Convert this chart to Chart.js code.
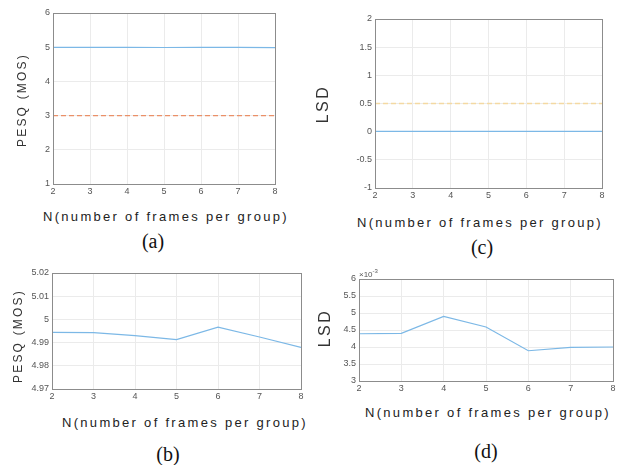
<!DOCTYPE html>
<html>
<head>
<meta charset="utf-8">
<script src="https://cdn.jsdelivr.net/npm/chart.js@4"></script>
<style>
  body { margin: 0; background: #fff; }
  #page { position: relative; width: 618px; height: 465px; overflow: hidden; }
  canvas { position: absolute; }
  .xt { position: absolute; font-family: Arial, "Liberation Sans", sans-serif; font-size: 13px; letter-spacing: 2.3px; color: #222; white-space: nowrap; }
  .yt { position: absolute; font-family: Arial, "Liberation Sans", sans-serif; color: #333; white-space: nowrap; transform: translate(-50%, -50%) rotate(-90deg); }
  .cap { position: absolute; font-family: "Liberation Serif", "DejaVu Serif", serif; font-size: 20px; color: #111; transform: translateX(-50%); }
  .exp { position: absolute; font-family: Arial, "Liberation Sans", sans-serif; font-size: 8px; color: #555; }
</style>
</head>
<body>
<div id="page">
  <canvas id="chartA" width="285" height="200" style="left:0;top:0"></canvas>
  <canvas id="chartC" width="308" height="205" style="left:310px;top:0"></canvas>
  <canvas id="chartB" width="310" height="145" style="left:0;top:260px"></canvas>
  <canvas id="chartD" width="308" height="132" style="left:310px;top:265px"></canvas>

  <div class="yt" style="left:22px;top:100px;font-size:12px;letter-spacing:2.2px">PESQ (MOS)</div>
  <div class="xt" style="left:43px;top:209px">N(number of frames per group)</div>
  <div class="cap" style="left:153px;top:230px">(a)</div>

  <div class="yt" style="left:323px;top:104px;font-size:16px;letter-spacing:2.5px">LSD</div>
  <div class="xt" style="left:357px;top:215px">N(number of frames per group)</div>
  <div class="cap" style="left:482px;top:236px">(c)</div>

  <div class="yt" style="left:18px;top:336px;font-size:12px;letter-spacing:2.2px">PESQ (MOS)</div>
  <div class="xt" style="left:62px;top:415px">N(number of frames per group)</div>
  <div class="cap" style="left:168px;top:443px">(b)</div>

  <div class="yt" style="left:325px;top:328px;font-size:16px;letter-spacing:2.5px">LSD</div>
  <div class="exp" style="left:359px;top:268px">&times;10<sup style="font-size:6px">-3</sup></div>
  <div class="xt" style="left:365px;top:405px">N(number of frames per group)</div>
  <div class="cap" style="left:486px;top:440px">(d)</div>
</div>
<script>
const frames = [2, 3, 4, 5, 6, 7, 8];
const pesqValues = [4.9944, 4.9943, 4.9930, 4.9913, 4.9967, 4.9924, 4.9879];
const lsdValues = [0.00439, 0.00440, 0.00490, 0.00459, 0.00389, 0.00399, 0.00400];
const pesqThreshold = 3;
const lsdThreshold = 0.5;

const lineBlue = '#7cb8e6';
const tickGray = '#555555';
const gridGray = '#ebebeb';
const boxGray = '#8c8c8c';

const boxPlugin = {
  id: 'box',
  afterDraw(chart) {
    const a = chart.chartArea;
    const ctx = chart.ctx;
    ctx.save();
    ctx.strokeStyle = boxGray;
    ctx.lineWidth = 1;
    ctx.strokeRect(Math.round(a.left) + 0.5, Math.round(a.top) + 0.5,
      Math.round(a.right - a.left), Math.round(a.bottom - a.top));
    ctx.restore();
  }
};

function points(xs, ys) {
  return xs.map((x, i) => ({ x: x, y: ys[i] }));
}

function makeChart(id, opts) {
  const datasets = [{
    data: points(frames, opts.values),
    borderColor: lineBlue,
    borderWidth: 1.2,
    pointRadius: 0,
    tension: 0
  }];
  if (opts.threshold !== undefined) {
    datasets.unshift({
      data: points([frames[0], frames[frames.length - 1]], [opts.threshold, opts.threshold]),
      borderColor: opts.thresholdColor,
      borderWidth: 1.3,
      borderDash: [5, 3],
      pointRadius: 0
    });
  }
  return new Chart(document.getElementById(id), {
    type: 'line',
    data: { datasets: datasets },
    plugins: [boxPlugin],
    options: {
      responsive: false,
      animation: false,
      layout: { padding: opts.padding },
      plugins: { legend: { display: false }, tooltip: { enabled: false } },
      scales: {
        x: {
          type: 'linear',
          min: 2, max: 8,
          afterFit: s => { s.height = opts.xh; },
          ticks: { stepSize: 1, color: tickGray, font: { size: 9, family: 'Arial' }, padding: 2 },
          grid: { color: gridGray, drawTicks: false },
          border: { color: boxGray }
        },
        y: {
          min: opts.min, max: opts.max,
          afterFit: s => { s.width = opts.yw; },
          ticks: {
            stepSize: opts.step, color: tickGray, font: { size: 9, family: 'Arial' }, padding: 3,
            callback: opts.fmt
          },
          grid: { color: gridGray, drawTicks: false },
          border: { color: boxGray }
        }
      }
    }
  });
}

const plain = v => String(Number(v.toFixed(3)));

makeChart('chartA', {
  values: pesqValues, threshold: pesqThreshold, thresholdColor: '#ea9068',
  min: 1, max: 6, step: 1, fmt: plain,
  padding: { top: 13, right: 10 }, xh: 16, yw: 53
});
makeChart('chartC', {
  values: lsdValues, threshold: lsdThreshold, thresholdColor: '#f4d9a2',
  min: -1, max: 2, step: 0.5, fmt: plain,
  padding: { top: 19, right: 16 }, xh: 17, yw: 65
});
makeChart('chartB', {
  values: pesqValues,
  min: 4.97, max: 5.02, step: 0.01, fmt: plain,
  padding: { top: 13, right: 9 }, xh: 16, yw: 52
});
makeChart('chartD', {
  values: lsdValues,
  min: 0.003, max: 0.006, step: 0.0005, fmt: v => String(Number((v * 1000).toFixed(2))),
  padding: { top: 14, right: 5 }, xh: 16, yw: 49
});
</script>
</body>
</html>
